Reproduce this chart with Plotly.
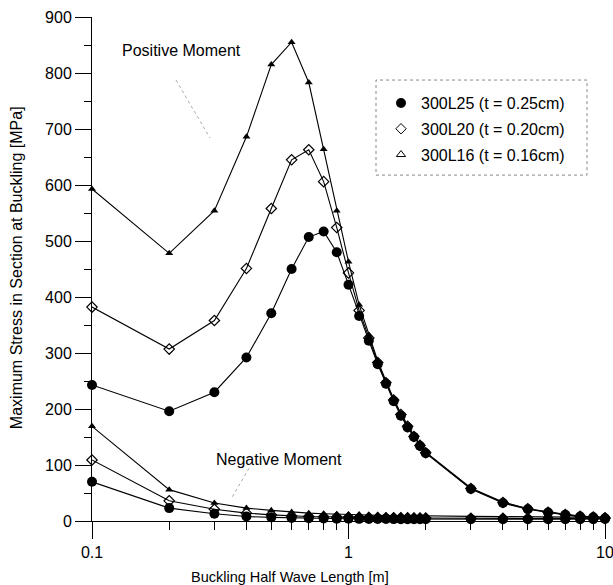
import plotly.graph_objects as go

# Buckling half wave lengths [m]
x_len = [0.1, 0.2, 0.3, 0.4, 0.5, 0.6, 0.7, 0.8, 0.9, 1.0,
         1.1, 1.2, 1.3, 1.4, 1.5, 1.6, 1.7, 1.8, 1.9, 2.0,
         3, 4, 5, 6, 7, 8, 9, 10]

# Positive moment
pos_L25 = [243, 196, 230, 292, 371, 450, 507, 517, 480, 422,
           366, 322, 280, 245, 214, 188, 167, 150, 134, 121,
           57, 32, 21, 15, 11, 8, 6.5, 5]
pos_L20 = [382, 307, 358, 451, 558, 645, 663, 606, 524, 443,
           376, 327, 283, 247, 216, 190, 169, 151, 135, 122,
           58, 33, 22, 15.5, 11.5, 8.5, 7, 5.5]
pos_L16 = [593, 478, 554, 686, 815, 855, 783, 664, 554, 463,
           386, 332, 286, 250, 218, 192, 171, 153, 137, 123,
           59, 34, 22, 16, 12, 9, 7, 6]

# Negative moment
neg_L25 = [70, 23, 13, 8, 6.5, 5.5, 5, 4.5, 4.2, 4,
           3.8, 3.7, 3.6, 3.5, 3.4, 3.3, 3.3, 3.2, 3.2, 3.1,
           3, 3, 3, 3, 3, 3, 3.2, 3.5]
neg_L20 = [109, 36, 21, 14, 11, 9, 8, 7.5, 7, 6.7,
           6.4, 6.2, 6, 5.8, 5.7, 5.6, 5.5, 5.4, 5.3, 5.2,
           4.8, 4.6, 4.5, 4.5, 4.5, 4.5, 4.5, 4.6]
neg_L16 = [169, 56, 32, 23, 19, 16, 14, 13, 12, 11.5,
           11, 10.6, 10.3, 10, 9.8, 9.6, 9.4, 9.2, 9, 8.9,
           8.2, 7.8, 7.5, 7.3, 7, 6.8, 6.6, 6.5]

series_names = ["300L25 (t = 0.25cm)", "300L20 (t = 0.20cm)", "300L16 (t = 0.16cm)"]

FONT = "Liberation Sans, Arial, sans-serif"

styles = [
    dict(symbol="circle", size=10, color="black", line=dict(width=0)),
    dict(symbol="diamond-open", size=8, color="black", line=dict(width=1.2, color="black")),
    dict(symbol="triangle-up", size=7, color="black", line=dict(width=0)),
]
legend_styles = [
    dict(symbol="circle", size=10, color="black", line=dict(width=0)),
    dict(symbol="diamond-open", size=8, color="black", line=dict(width=1, color="black")),
    dict(symbol="triangle-up-open", size=8, color="black", line=dict(width=1, color="black")),
]

fig = go.Figure()
for vals, st in zip([neg_L25, neg_L20, neg_L16, pos_L25, pos_L20, pos_L16], styles * 2):
    fig.add_trace(go.Scatter(x=x_len, y=vals, mode="lines+markers",
                             line=dict(color="black", width=1.1),
                             marker=st, showlegend=False, cliponaxis=False))

for i, (name, st) in enumerate(zip(series_names, legend_styles)):
    fig.add_trace(go.Scatter(x=[None], y=[None], mode="markers", name=name,
                             marker=st, legendgroup=f"g{i}", showlegend=True))

L, R, T, B = 92, 605, 17, 520.7
W, H = 613, 585
def px(xp):
    return (xp - L) / (R - L)
def py(yp):
    return (B - yp) / (B - T)

fig.update_layout(
    width=W, height=H,
    margin=dict(l=L, r=W - R, t=T, b=H - B, autoexpand=False),
    plot_bgcolor="white", paper_bgcolor="white",
    font=dict(family=FONT, size=13, color="black"),
    legend=dict(x=px(381), y=py(86), xanchor="left", yanchor="top",
                bgcolor="rgba(0,0,0,0)", borderwidth=0,
                font=dict(size=16, family=FONT, color="black"),
                tracegroupgap=2, itemwidth=30),
    xaxis=dict(type="log", range=[-1, 1], showgrid=False, zeroline=False,
               showline=True, linecolor="black", linewidth=1, automargin=False,
               tickvals=[0.1, 1, 10], ticktext=["0.1", "1", "10"],
               ticklabeloverflow="allow",
               ticks="outside", ticklen=17, tickcolor="black", tickwidth=1,
               tickfont=dict(size=16),
               minor=dict(ticks="outside", ticklen=8, tickcolor="black", tickwidth=1,
                          tickvals=[0.2, 0.3, 0.4, 0.5, 0.6, 0.7, 0.8, 0.9,
                                    2, 3, 4, 5, 6, 7, 8, 9])),
    yaxis=dict(range=[0, 900], showgrid=False, zeroline=False, automargin=False,
               showline=True, linecolor="black", linewidth=1,
               ticklabeloverflow="allow",
               dtick=100, tick0=0, ticks="outside", ticklen=16,
               tickcolor="black", tickwidth=1, tickfont=dict(size=16),
               minor=dict(ticks="outside", ticklen=7, dtick=50, tickcolor="black", tickwidth=1)),
    annotations=[
        dict(text="Positive Moment", xref="paper", yref="paper", x=px(181), y=py(50),
             xanchor="center", yanchor="middle", showarrow=False, font=dict(size=16)),
        dict(text="Negative Moment", xref="paper", yref="paper", x=px(279), y=py(459),
             xanchor="center", yanchor="middle", showarrow=False, font=dict(size=16)),
        dict(text="Buckling Half Wave Length [m]", xref="paper", yref="paper",
             x=px(290), y=py(577), xanchor="center", yanchor="middle",
             showarrow=False, font=dict(size=14.5)),
        dict(text="Maximum Stress in Section at Buckling [MPa]", xref="paper", yref="paper",
             x=px(16), y=py(268), xanchor="center", yanchor="middle", textangle=-90,
             showarrow=False, font=dict(size=16)),
    ],
    shapes=[
        dict(type="rect", xref="paper", yref="paper", x0=px(376), x1=px(587),
             y0=py(175), y1=py(80), line=dict(color="#888888", width=1, dash="dot")),
        dict(type="line", xref="paper", yref="paper", x0=px(176), y0=py(80),
             x1=px(210), y1=py(138), line=dict(color="#aaaaaa", width=1, dash="dot")),
        dict(type="line", xref="paper", yref="paper", x0=px(249), y0=py(468),
             x1=px(232), y1=py(497), line=dict(color="#aaaaaa", width=1, dash="dot")),
    ],
)

fig.write_html("out.html")
